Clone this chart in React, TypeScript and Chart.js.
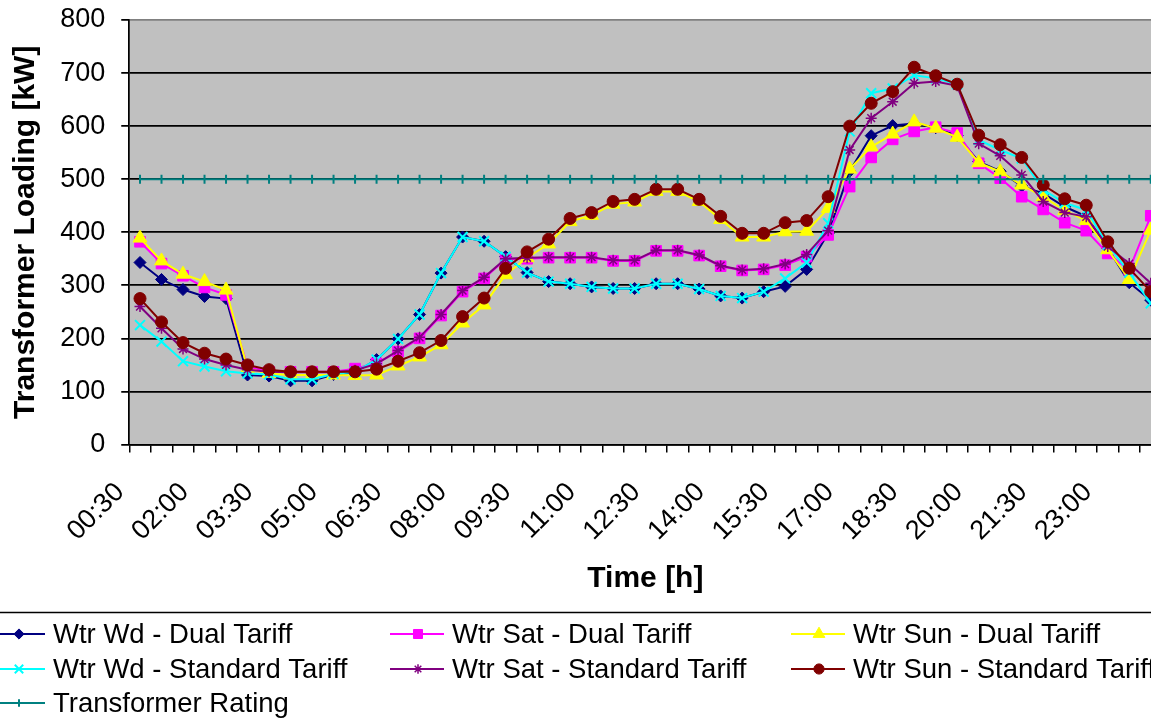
import React, { useEffect, useRef } from "react";
import { Chart, registerables } from "chart.js";
import { drawPoint } from "chart.js/helpers";

Chart.register(...registerables);

// ---------- data ----------
const timeLabels = [
  "00:30", "01:00", "01:30", "02:00", "02:30", "03:00", "03:30", "04:00",
  "04:30", "05:00", "05:30", "06:00", "06:30", "07:00", "07:30", "08:00",
  "08:30", "09:00", "09:30", "10:00", "10:30", "11:00", "11:30", "12:00",
  "12:30", "13:00", "13:30", "14:00", "14:30", "15:00", "15:30", "16:00",
  "16:30", "17:00", "17:30", "18:00", "18:30", "19:00", "19:30", "20:00",
  "20:30", "21:00", "21:30", "22:00", "22:30", "23:00", "23:30", "24:00",
];

const wdDual = [343, 311, 292, 279, 275, 131, 129, 120, 120, 132, 136, 160, 199, 245, 323, 391, 383, 354, 324, 307, 303, 297, 294, 294, 303, 303, 293, 280, 276, 288, 298, 330, 398, 515, 582, 601, 605, 597, 582, 533, 515, 487, 473, 448, 430, 370, 305, 272];
const satDual = [382, 341, 318, 296, 282, 147, 137, 137, 137, 137, 143, 153, 175, 200, 243, 288, 313, 349, 350, 352, 352, 352, 346, 346, 365, 365, 356, 336, 328, 330, 338, 354, 395, 486, 541, 575, 590, 598, 587, 530, 502, 467, 443, 418, 403, 360, 329, 431];
const sunDual = [389, 346, 321, 307, 291, 143, 134, 131, 131, 131, 130, 131, 148, 165, 188, 229, 263, 320, 352, 378, 420, 432, 453, 457, 477, 477, 458, 424, 391, 391, 401, 402, 445, 519, 561, 585, 608, 596, 579, 531, 514, 489, 467, 441, 422, 367, 311, 404];
const wdStd = [225, 194, 157, 147, 138, 134, 132, 123, 123, 133, 137, 160, 199, 245, 323, 391, 383, 354, 324, 307, 303, 297, 294, 294, 303, 303, 293, 280, 276, 288, 313, 343, 417, 590, 662, 671, 696, 690, 679, 574, 555, 539, 480, 455, 442, 376, 324, 266];
const satStd = [260, 219, 180, 161, 150, 141, 137, 136, 136, 136, 140, 152, 177, 202, 245, 290, 315, 350, 352, 353, 353, 353, 347, 347, 366, 366, 357, 337, 329, 331, 340, 358, 403, 555, 615, 646, 681, 684, 676, 567, 544, 508, 458, 437, 429, 373, 341, 304];
const sunStd = [275, 231, 192, 172, 161, 150, 141, 137, 137, 137, 137, 142, 157, 173, 196, 241, 276, 332, 363, 387, 426, 437, 458, 462, 481, 481, 462, 430, 398, 398, 418, 422, 467, 600, 643, 665, 711, 695, 679, 583, 565, 541, 489, 463, 451, 382, 332, 288];
const rating = [500, 500, 500, 500, 500, 500, 500, 500, 500, 500, 500, 500, 500, 500, 500, 500, 500, 500, 500, 500, 500, 500, 500, 500, 500, 500, 500, 500, 500, 500, 500, 500, 500, 500, 500, 500, 500, 500, 500, 500, 500, 500, 500, 500, 500, 500, 500, 500];

const seriesNames = [
  "Wtr Wd - Dual Tariff",
  "Wtr Sat - Dual Tariff",
  "Wtr Sun - Dual Tariff",
  "Wtr Wd - Standard Tariff",
  "Wtr Sat - Standard Tariff",
  "Wtr Sun - Standard Tariff",
  "Transformer Rating",
];

// ---------- layout ----------
const CANVAS_W = 1200;
const CANVAS_H = 719;
const PLOT_LEFT = 129.25;
const PLOT_TOP = 20;
const PLOT_BOTTOM = 444.5;
const PLOT_RIGHT = 1161.5;
const LEGEND_TOP = 612.5;
const LEGEND_COLS = [53, 452, 853];
const LEGEND_ROWS = [634, 669, 703];
const FONT = '"Liberation Sans", Arial, sans-serif';

const bgPlugin = {
  id: "plotBg",
  beforeDraw(chart: any) {
    const { ctx, chartArea: a } = chart;
    ctx.save();
    ctx.fillStyle = "#FFFFFF";
    ctx.fillRect(0, 0, chart.width, chart.height);
    ctx.fillStyle = "#C0C0C0";
    ctx.fillRect(a.left, a.top, a.right - a.left, a.bottom - a.top);
    ctx.restore();
  },
};

const legendPlugin = {
  id: "boxLegend",
  afterDraw(chart: any) {
    const ctx = chart.ctx;
    ctx.save();
    ctx.strokeStyle = "#000";
    ctx.lineWidth = 1.5;
    ctx.beginPath();
    ctx.moveTo(0, LEGEND_TOP);
    ctx.lineTo(chart.width, LEGEND_TOP);
    ctx.stroke();
    ctx.font = `27.5px ${FONT}`;
    ctx.textBaseline = "middle";
    ctx.textAlign = "left";
    chart.data.datasets.forEach((ds: any, i: number) => {
      const tx = LEGEND_COLS[i % 3];
      const ty = LEGEND_ROWS[Math.floor(i / 3)];
      ctx.strokeStyle = ds.borderColor;
      ctx.lineWidth = 2;
      ctx.beginPath();
      ctx.moveTo(tx - 62, ty);
      ctx.lineTo(tx - 8, ty);
      ctx.stroke();
      ctx.fillStyle = ds.pointBackgroundColor;
      ctx.strokeStyle = ds.pointBorderColor;
      ctx.lineWidth = ds.pointBorderWidth;
      drawPoint(
        ctx,
        {
          pointStyle: ds.pointStyle,
          radius: ds.pointRadius * 0.85,
          rotation: ds.pointRotation || 0,
          borderWidth: ds.pointBorderWidth,
        } as any,
        tx - 34,
        ty
      );
      ctx.fillStyle = "#000";
      ctx.fillText(ds.label, tx, ty + 1);
    });
    ctx.restore();
  },
};

export default function App() {
  const ref = useRef<HTMLCanvasElement>(null);

  useEffect(() => {
    const canvas = ref.current;
    if (!canvas) return;
    Chart.defaults.font.family = FONT;
    Chart.defaults.color = "#000";

    const mk = (
      label: string,
      data: number[],
      color: string,
      pointStyle: string,
      radius: number,
      order: number,
      extra: any = {}
    ) => ({
      label,
      data,
      borderColor: color,
      backgroundColor: color,
      pointBackgroundColor: color,
      pointBorderColor: color,
      pointStyle,
      pointRadius: radius,
      pointHoverRadius: radius,
      borderWidth: 2,
      pointBorderWidth: 1,
      tension: 0,
      order,
      ...extra,
    });

    const datasets = [
      mk(seriesNames[0], wdDual, "#000080", "rectRot", 6, 6),
      mk(seriesNames[1], satDual, "#FF00FF", "rect", 7.5, 5),
      mk(seriesNames[2], sunDual, "#FFFF00", "triangle", 8, 4),
      mk(seriesNames[3], wdStd, "#00FFFF", "crossRot", 7, 3, { pointBorderWidth: 2 }),
      mk(seriesNames[4], satStd, "#800080", "star", 5.5, 2, { pointBorderWidth: 1.5 }),
      mk(seriesNames[5], sunStd, "#800000", "circle", 6, 1),
      mk(seriesNames[6], rating, "#008080", "line", 4.5, 0, { pointRotation: 90, pointBorderWidth: 2 }),
    ];

    const chart = new Chart(canvas, {
      type: "line",
      data: { labels: timeLabels, datasets: datasets as any },
      plugins: [bgPlugin, legendPlugin],
      options: {
        animation: false,
        responsive: false,
        devicePixelRatio: 1,
        events: [],
        layout: {
          padding: {
            top: PLOT_TOP,
            left: 0,
            right: CANVAS_W - PLOT_RIGHT,
            bottom: CANVAS_H - LEGEND_TOP,
          },
        },
        plugins: {
          legend: { display: false },
          tooltip: { enabled: false },
        },
        scales: {
          x: {
            type: "category",
            offset: true,
            grid: {
              offset: true,
              drawOnChartArea: false,
              drawTicks: true,
              tickLength: 8,
              color: "#000",
              lineWidth: 1.5,
            },
            border: { display: true, color: "#000", width: 1.5 },
            ticks: {
              autoSkip: false,
              maxRotation: 45,
              minRotation: 45,
              labelOffset: -20,
              padding: 24,
              color: "#000",
              font: { size: 27 },
              callback: (_v: any, i: number) => (i % 3 === 0 ? timeLabels[i] : ""),
            },
            title: {
              display: true,
              text: "Time [h]",
              color: "#000",
              font: { size: 30, weight: "bold" },
              padding: { top: 0, bottom: 16 },
            },
            afterFit: (s: any) => {
              s.height = LEGEND_TOP - PLOT_BOTTOM;
              s.paddingLeft = 0;
              s.paddingRight = 0;
            },
          },
          y: {
            min: 0,
            max: 800,
            ticks: { stepSize: 100, color: "#000", font: { size: 27 }, padding: 16 },
            grid: {
              color: (c: any) => (c.tick && c.tick.value === 800 ? "#808080" : "#000"),
              tickColor: "#000",
              lineWidth: 1.75,
              tickLength: 8,
            },
            border: { display: true, color: "#000", width: 1.75 },
            title: {
              display: true,
              text: "Transformer Loading [kW]",
              color: "#000",
              font: { size: 30, weight: "bold" },
              padding: { top: 8, bottom: 0 },
            },
            afterFit: (s: any) => {
              s.width = PLOT_LEFT;
              s.paddingTop = 0;
              s.paddingBottom = 0;
            },
          },
        },
      } as any,
    });

    return () => chart.destroy();
  }, []);

  return (
    <div
      style={{
        position: "fixed",
        left: 0,
        top: 0,
        width: 1151,
        height: 719,
        overflow: "hidden",
        background: "#fff",
      }}
    >
      <canvas
        ref={ref}
        width={CANVAS_W}
        height={CANVAS_H}
        style={{ display: "block", width: CANVAS_W, height: CANVAS_H }}
      />
    </div>
  );
}
